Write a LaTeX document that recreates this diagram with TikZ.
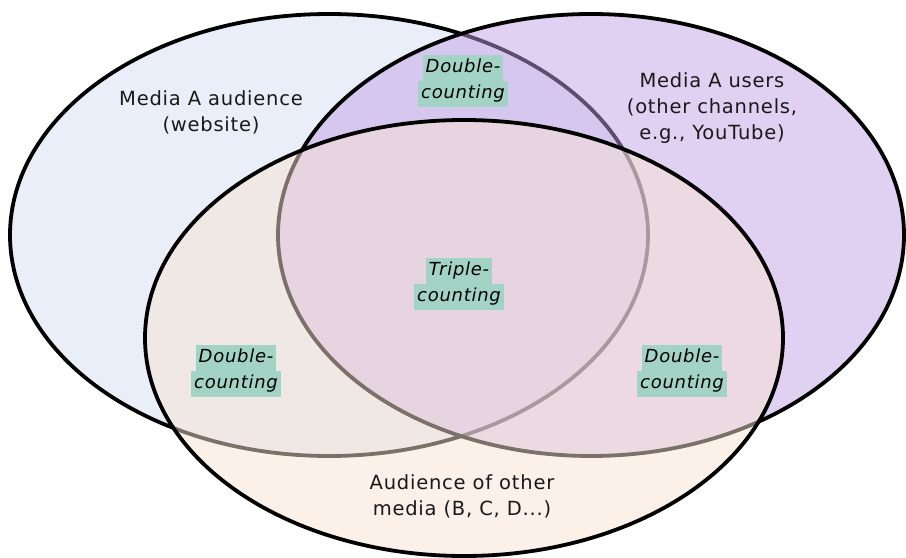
\documentclass[tikz,border=0pt]{standalone}
\usepackage{fontspec}
\setmainfont[LetterSpace=4]{DejaVu Sans}
\definecolor{leftfill}{RGB}{234,238,248}
\definecolor{rightfill}{RGB}{192,159,228}
\definecolor{bottomfill}{RGB}{247,227,211}
\definecolor{hl}{RGB}{162,211,196}
\begin{document}
\begin{tikzpicture}[x=1bp,y=-1bp,
  ring/.style={draw=black,line width=3.8bp},
  plainlabel/.style={align=center,font=\fontsize{19.5bp}{26bp}\selectfont,text=black!90},
  hlline/.style={fill=hl,font=\fontsize{18bp}{26bp}\selectfont\itshape,text=black,
    text height=14bp,text depth=5bp,inner ysep=3.5bp,inner xsep=3bp}]
\useasboundingbox (0,0) rectangle (906,558);
% ellipses
\path[ring,fill=leftfill] (329,235) ellipse [x radius=319,y radius=221];
\path[ring,fill=rightfill,fill opacity=0.49] (591,235) ellipse [x radius=313,y radius=221];
\path[ring,fill=bottomfill,fill opacity=0.5] (464,338) ellipse [x radius=319,y radius=218];
% plain labels
\node[plainlabel] (la) at (211,112) {Media A audience\\(website)};
\node[plainlabel] (lb) at (712,108) {Media A users\\(other channels,\\e.g., YouTube)};
\node[plainlabel] (lc) at (462,496) {Audience of other\\media (B, C, D...)};
% highlighted labels
\node[hlline,anchor=south] (t1) at (463,81) {Double-};
\node[hlline,anchor=north] (t2) at (463,81) {counting};
\node[hlline,anchor=south] (m1) at (459,284) {Triple-};
\node[hlline,anchor=north] (m2) at (459,284) {counting};
\node[hlline,anchor=south] (l1) at (236,371) {Double-};
\node[hlline,anchor=north] (l2) at (236,371) {counting};
\node[hlline,anchor=south] (r1) at (682,371) {Double-};
\node[hlline,anchor=north] (r2) at (682,371) {counting};
\end{tikzpicture}
\end{document}
